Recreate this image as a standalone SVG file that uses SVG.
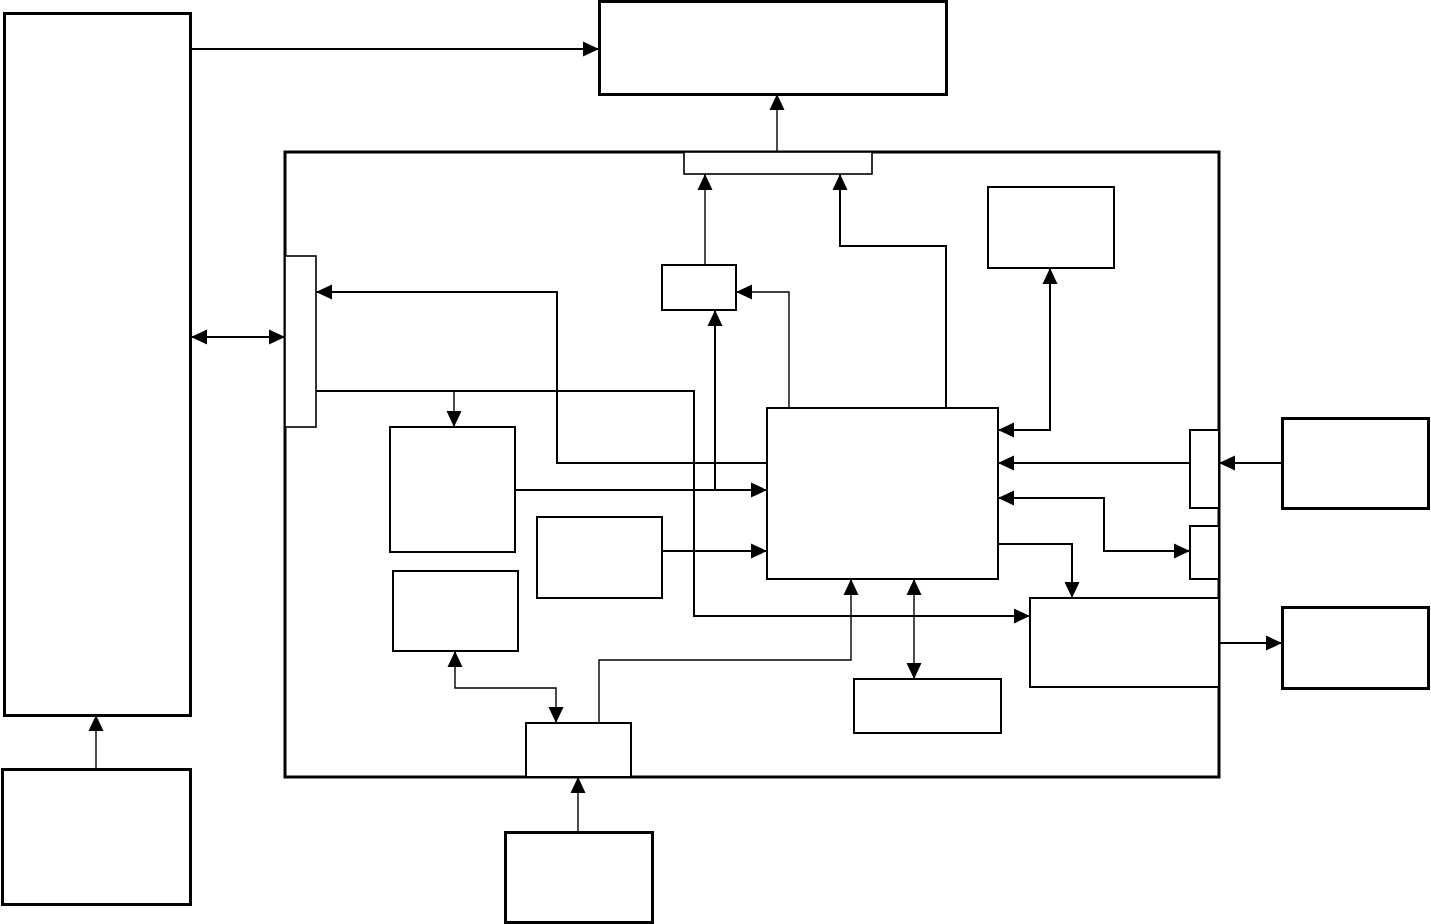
<svg xmlns="http://www.w3.org/2000/svg" width="1431" height="924" viewBox="0 0 1431 924">
<style>
.thick{fill:#fff;stroke:#000;stroke-width:3}
.box{fill:#fff;stroke:#000;stroke-width:2}
.port{fill:#fff;stroke:#000;stroke-width:1.6}
.c{fill:none;stroke:#000;stroke-width:2}
.t{fill:none;stroke:#000;stroke-width:1.4}
</style>
<defs>
<marker id="a" markerUnits="userSpaceOnUse" markerWidth="16" markerHeight="16" viewBox="0 0 16 16" refX="16" refY="8" orient="auto-start-reverse">
<path d="M0,0.5 L16,8 L0,15.5 Z" fill="#000"/>
</marker>
</defs>
<rect width="1431" height="924" fill="#fff"/>
<g id="frame"><rect class="thick" x="285" y="152" width="934" height="625"/></g>
<g id="left-main"><rect class="thick" x="4.5" y="13.5" width="186" height="702"/></g>
<g id="top-main"><rect class="thick" x="599.5" y="1.5" width="347" height="93"/></g>
<g id="bus-top"><rect class="port" x="684" y="152" width="188" height="22"/></g>
<g id="port-left"><rect class="port" x="285" y="256" width="31" height="171"/></g>
<g id="box-a"><rect class="box" x="390" y="427" width="125" height="125"/></g>
<g id="box-b"><rect class="box" x="393" y="571" width="125" height="80"/></g>
<g id="box-c"><rect class="box" x="537" y="517" width="125" height="81"/></g>
<g id="center"><rect class="box" x="767" y="408" width="231" height="171"/></g>
<g id="box-d"><rect class="box" x="662" y="265" width="74" height="45"/></g>
<g id="box-e"><rect class="box" x="988" y="187" width="126" height="81"/></g>
<g id="port-r1"><rect class="box" x="1190" y="430" width="29" height="78"/></g>
<g id="port-r2"><rect class="box" x="1190" y="526" width="29" height="53"/></g>
<g id="box-f"><rect class="box" x="1030" y="598" width="189" height="89"/></g>
<g id="box-g"><rect class="box" x="854" y="679" width="147" height="54"/></g>
<g id="port-bottom"><rect class="box" x="526" y="723" width="105" height="54"/></g>
<g id="ext-r1"><rect class="thick" x="1282.5" y="418.5" width="146" height="90"/></g>
<g id="ext-r2"><rect class="thick" x="1282.5" y="607.5" width="146" height="81"/></g>
<g id="ext-bottom"><rect class="thick" x="505.5" y="832.5" width="147" height="90"/></g>
<g id="ext-bl"><rect class="thick" x="2.5" y="769.5" width="188" height="135"/></g>
<g id="connectors">
<path class="c" d="M191,49 H599" marker-end="url(#a)"/>
<path class="t" d="M777,152 V94" marker-end="url(#a)"/>
<path class="c" d="M191,337 H285" marker-start="url(#a)" marker-end="url(#a)"/>
<path class="c" d="M767,463 H557 V292 H316" marker-end="url(#a)"/>
<path class="c" d="M316,391 H694 V616 H1030" marker-end="url(#a)"/>
<path class="t" d="M454,391 V427" marker-end="url(#a)"/>
<path class="t" d="M705,265 V174" marker-end="url(#a)"/>
<path class="c" d="M946,408 V246 H840 V174" marker-end="url(#a)"/>
<path class="t" d="M789,408 V292 H736" marker-end="url(#a)"/>
<path class="c" d="M515,490 H767" marker-end="url(#a)"/>
<path class="c" d="M715,490 V310" marker-end="url(#a)"/>
<path class="c" d="M662,551 H767" marker-end="url(#a)"/>
<path class="c" d="M998,430 H1050 V268" marker-start="url(#a)" marker-end="url(#a)"/>
<path class="c" d="M1190,463 H998" marker-end="url(#a)"/>
<path class="c" d="M1282,463 H1219" marker-end="url(#a)"/>
<path class="c" d="M998,498 H1104 V551 H1190" marker-start="url(#a)" marker-end="url(#a)"/>
<path class="c" d="M998,544 H1072 V598" marker-end="url(#a)"/>
<path class="c" d="M1219,643 H1282" marker-end="url(#a)"/>
<path class="t" d="M599,723 V660 H851 V579" marker-end="url(#a)"/>
<path class="t" d="M914,579 V679" marker-start="url(#a)" marker-end="url(#a)"/>
<path class="t" d="M455,651 V688 H556 V723" marker-start="url(#a)" marker-end="url(#a)"/>
<path class="t" d="M578,832 V777" marker-end="url(#a)"/>
<path class="t" d="M96,769 V715" marker-end="url(#a)"/>
</g>
</svg>
